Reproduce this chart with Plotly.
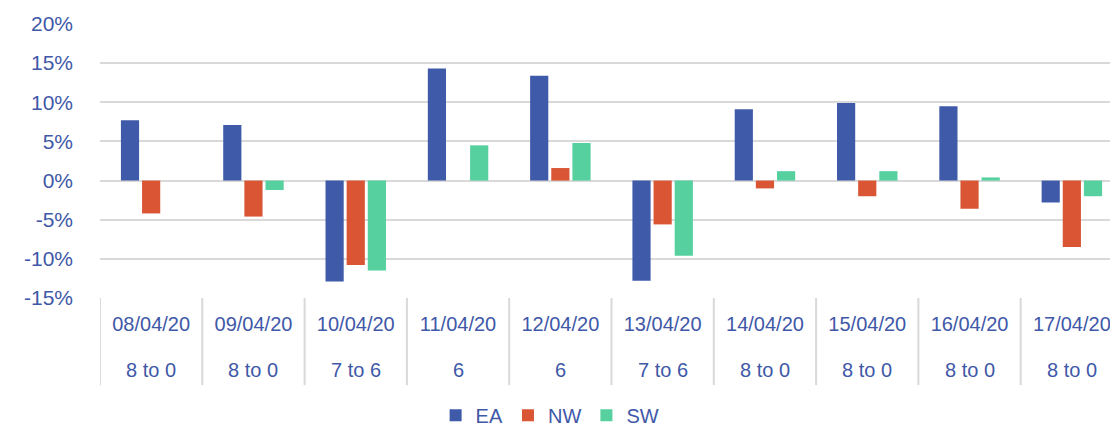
import plotly.graph_objects as go

dates = ["08/04/20", "09/04/20", "10/04/20", "11/04/20", "12/04/20",
         "13/04/20", "14/04/20", "15/04/20", "16/04/20", "17/04/20"]
sub_labels = ["8 to 0", "8 to 0", "7 to 6", "6", "6",
              "7 to 6", "8 to 0", "8 to 0", "8 to 0", "8 to 0"]
ea = [7.7, 7.1, -12.9, 14.3, 13.4, -12.8, 9.1, 9.9, 9.5, -2.8]
nw = [-4.2, -4.6, -10.8, 0.0, 1.6, -5.6, -1.0, -2.0, -3.6, -8.5]
sw = [0.0, -1.2, -11.5, 4.5, 4.8, -9.6, 1.2, 1.2, 0.4, -2.0]
y_ticks = [-15, -10, -5, 0, 5, 10, 15, 20]
y_tick_labels = ["-15%", "-10%", "-5%", "0%", "5%", "10%", "15%", "20%"]

series = [("EA", ea, "#3F5AA9"), ("NW", nw, "#D95534"), ("SW", sw, "#55D09E")]
text_color = "#4058A8"
font_family = "Liberation Sans, Arial, sans-serif"

fig = go.Figure()
for name, vals, color in series:
    fig.add_trace(go.Bar(
        name=name, x=dates, y=vals,
        marker=dict(color=color, line=dict(width=0)),
    ))

shapes = []
n = len(dates)
for i in range(n + 1):
    shapes.append(dict(
        type="line", xref="x", yref="paper",
        x0=i - 0.5, x1=i - 0.5, y0=0, y1=-0.318,
        line=dict(color="#D9D9D9", width=2),
    ))

annotations = []
for d, s in zip(dates, sub_labels):
    annotations.append(dict(
        x=d, xref="x", y=-0.263, yref="paper", text=s,
        showarrow=False, xanchor="center", yanchor="middle",
        font=dict(size=20, color=text_color, family=font_family),
    ))

fig.update_layout(
    width=1118, height=425, autosize=False,
    margin=dict(l=92, r=3, t=16, b=135, autoexpand=False),
    paper_bgcolor="white", plot_bgcolor="white",
    barmode="group", bargap=0.38, bargroupgap=0.14,
    font=dict(family=font_family, size=20, color=text_color),
    showlegend=True,
    legend=dict(orientation="h", x=0.44, xanchor="center",
                y=-0.428, yanchor="middle", itemwidth=30,
                font=dict(size=20, color=text_color, family=font_family)),
    shapes=shapes,
    annotations=annotations,
    xaxis=dict(
        type="category", range=[-0.5, n - 0.5], automargin=False,
        showgrid=False, zeroline=False, showline=False,
        ticks="", ticklabelstandoff=12, tickangle=0,
        tickfont=dict(size=20, color=text_color, family=font_family),
    ),
    yaxis=dict(
        range=[-15, 20], tickmode="array", tickvals=y_ticks, ticktext=y_tick_labels,
        automargin=False,
        showgrid=True, gridcolor="#D9D9D9", gridwidth=2,
        zeroline=False, showline=False, ticks="", ticklabelstandoff=26,
        tickfont=dict(size=21, color=text_color, family=font_family),
    ),
)

fig.write_html("out.html")
